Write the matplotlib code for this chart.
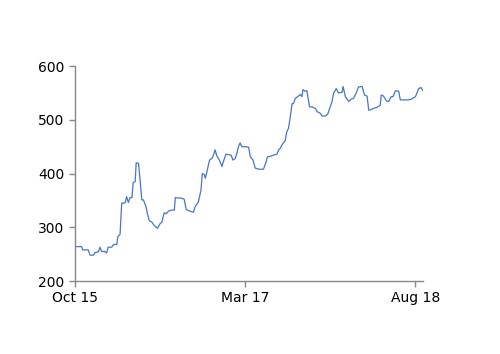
import pandas as pd
import matplotlib
matplotlib.use("Agg")
import matplotlib.pyplot as plt
import matplotlib.dates as mdates

dates = [
    "2015-10-01", "2015-10-21", "2015-10-24", "2015-11-10", "2015-11-16", "2015-11-26",
    "2015-12-01", "2015-12-11", "2015-12-16", "2015-12-21", "2015-12-31", "2016-01-05",
    "2016-01-10", "2016-01-21", "2016-01-26", "2016-02-05", "2016-02-08", "2016-02-15",
    "2016-02-20", "2016-03-01", "2016-03-06", "2016-03-11", "2016-03-16", "2016-03-22",
    "2016-03-26", "2016-04-01", "2016-04-04", "2016-04-11", "2016-04-16", "2016-04-21",
    "2016-04-26", "2016-05-04", "2016-05-08", "2016-05-14", "2016-05-21", "2016-05-29",
    "2016-06-08", "2016-06-16", "2016-06-21", "2016-06-28", "2016-07-04", "2016-07-11",
    "2016-07-21", "2016-07-29", "2016-08-01", "2016-08-21", "2016-08-28", "2016-09-03",
    "2016-09-15", "2016-09-25", "2016-09-30", "2016-10-10", "2016-10-18", "2016-10-22",
    "2016-10-28", "2016-10-31", "2016-11-05", "2016-11-13", "2016-11-20", "2016-11-25",
    "2016-11-30", "2016-12-05", "2016-12-13", "2016-12-21", "2016-12-25", "2017-01-02",
    "2017-01-10", "2017-01-18", "2017-01-23", "2017-01-30", "2017-02-04", "2017-02-09",
    "2017-02-14", "2017-02-19", "2017-03-01", "2017-03-12", "2017-03-17", "2017-03-25",
    "2017-04-01", "2017-04-11", "2017-04-26", "2017-05-04", "2017-05-08", "2017-05-17",
    "2017-05-25", "2017-06-06", "2017-06-11", "2017-06-16", "2017-06-24", "2017-07-01",
    "2017-07-06", "2017-07-11", "2017-07-16", "2017-07-22", "2017-07-26", "2017-08-01",
    "2017-08-08", "2017-08-16", "2017-08-21", "2017-08-24", "2017-08-31", "2017-09-05",
    "2017-09-13", "2017-09-20", "2017-10-01", "2017-10-06", "2017-10-16", "2017-10-21",
    "2017-10-31", "2017-11-07", "2017-11-15", "2017-11-20", "2017-11-25", "2017-12-03",
    "2017-12-10", "2017-12-21", "2017-12-24", "2017-12-31", "2018-01-10", "2018-01-17",
    "2018-01-25", "2018-02-02", "2018-02-09", "2018-02-20", "2018-02-27", "2018-03-07",
    "2018-03-12", "2018-03-17", "2018-03-25", "2018-04-06", "2018-04-16", "2018-04-19",
    "2018-04-26", "2018-05-05", "2018-05-12", "2018-05-19", "2018-05-25", "2018-06-01",
    "2018-06-11", "2018-06-16", "2018-06-26", "2018-07-12", "2018-07-22", "2018-08-01",
    "2018-08-11", "2018-08-18", "2018-08-24",
]
values = [
    264, 264, 258, 258, 248, 248,
    253, 254, 263, 255, 255, 252,
    263, 263, 268, 268, 282, 287,
    345, 345, 357, 346, 355, 355,
    383, 385, 420, 419, 388, 351,
    351, 338, 326, 312, 310, 303,
    298, 307, 309, 327, 325, 330,
    332, 332, 355, 354, 352, 333,
    330, 328, 338, 347, 369, 400,
    398, 391, 403, 425, 428, 434,
    444, 433, 425, 413, 422, 436,
    435, 434, 425, 428, 437, 450,
    457, 450, 450, 449, 431, 425,
    410, 408, 408, 422, 431, 432,
    434, 436, 444, 447, 456, 461,
    478, 484, 503, 530, 530, 540,
    543, 547, 543, 556, 553, 554,
    524, 524, 521, 515, 512, 507,
    507, 510, 524, 533, 549, 558,
    550, 551, 562, 543, 534, 538,
    540, 550, 561, 562, 546, 544,
    518, 518, 521, 523, 527, 546,
    544, 535, 534, 543, 543, 554,
    553, 537, 537, 537, 539, 543,
    558, 560, 554,
]
tick_dates = ["2015-10-01", "2017-03-01", "2018-08-01"]
y_ticks = [200, 300, 400, 500, 600]

x = pd.to_datetime(dates)

fig = plt.figure(figsize=(5.0, 3.54), dpi=100)
ax = fig.add_axes([0.15, 0.2062, 0.696, 0.6073])
ax.plot(x, values, color="#4a74c4", linewidth=0.9)

ax.set_xlim(x[0], x[-1])
ax.set_ylim(200, 600)
ax.set_yticks(y_ticks)
ax.set_xticks(pd.to_datetime(tick_dates))
ax.xaxis.set_major_formatter(mdates.DateFormatter("%b %y"))

for side in ("top", "right"):
    ax.spines[side].set_visible(False)
for side in ("left", "bottom"):
    ax.spines[side].set_color("#888888")
    ax.spines[side].set_linewidth(1.0)
ax.tick_params(colors="#888888", labelcolor="black", labelsize=10,
               length=4, width=1.0, direction="out")

fig.savefig("out.png", dpi=100)
